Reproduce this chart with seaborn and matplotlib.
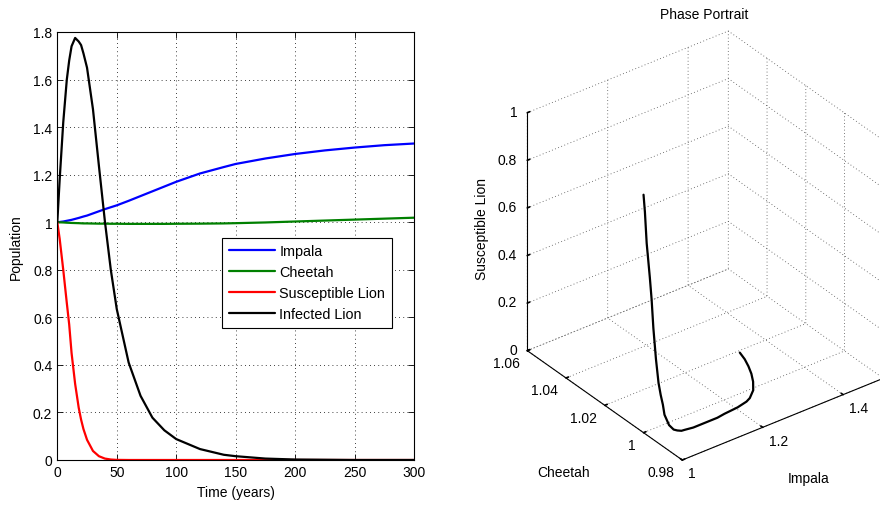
import numpy as np
import matplotlib
matplotlib.use("Agg")
import matplotlib.pyplot as plt
import seaborn as sns
import pandas as pd

# ---------------- data ----------------
time = [0, 2, 5, 8, 10, 12, 15, 18, 20, 22, 25, 30, 35, 40, 45, 50, 60, 70, 80,
        90, 100, 120, 140, 150, 175, 200, 225, 250, 275, 300]
impala = [1.0, 1.001, 1.003, 1.006, 1.008, 1.010, 1.014, 1.018, 1.021, 1.024,
          1.028, 1.037, 1.046, 1.055, 1.063, 1.071, 1.090, 1.110, 1.130, 1.150,
          1.170, 1.205, 1.232, 1.245, 1.268, 1.287, 1.302, 1.314, 1.324, 1.331]
cheetah = [1.0, 0.9995, 0.999, 0.998, 0.9975, 0.997, 0.9965, 0.996, 0.9955,
           0.995, 0.995, 0.9945, 0.994, 0.994, 0.9935, 0.9935, 0.993, 0.993,
           0.993, 0.993, 0.9935, 0.994, 0.995, 0.996, 0.999, 1.003, 1.007,
           1.011, 1.015, 1.019]
susceptible_lion = [1.0, 0.93, 0.80, 0.66, 0.57, 0.45, 0.32, 0.22, 0.17, 0.13,
                    0.085, 0.038, 0.016, 0.006, 0.002, 0.0005, 0.0, 0.0, 0.0,
                    0.0, 0.0, 0.0, 0.0, 0.0, 0.0, 0.0, 0.0, 0.0, 0.0, 0.0]
infected_lion = [1.0, 1.18, 1.42, 1.60, 1.68, 1.74, 1.775, 1.76, 1.745, 1.71,
                 1.65, 1.475, 1.237, 1.005, 0.80, 0.635, 0.41, 0.27, 0.178,
                 0.125, 0.088, 0.046, 0.022, 0.016, 0.006, 0.002, 0.001, 0.0,
                 0.0, 0.0]

series_names = ["Impala", "Cheetah", "Susceptible Lion", "Infected Lion"]
series_colors = ["#0000ff", "#008000", "#ff0000", "#000000"]

time_ticks = [0, 50, 100, 150, 200, 250, 300]
pop_ticks = [0, 0.2, 0.4, 0.6, 0.8, 1.0, 1.2, 1.4, 1.6, 1.8]
impala_ticks = [1.0, 1.2, 1.4]
cheetah_ticks = [0.98, 1.0, 1.02, 1.04, 1.06]
sus_ticks = [0, 0.2, 0.4, 0.6, 0.8, 1.0]

# ---------------- style ----------------
sns.set_theme(style="white")
plt.rcParams["font.family"] = ["Liberation Sans", "DejaVu Sans"]
plt.rcParams["font.size"] = 10
plt.rcParams["axes.edgecolor"] = "black"
plt.rcParams["axes.linewidth"] = 0.8
plt.rcParams["text.color"] = "black"
plt.rcParams["axes.labelcolor"] = "black"
plt.rcParams["xtick.color"] = "black"
plt.rcParams["ytick.color"] = "black"
plt.rcParams["grid.color"] = "0.3"
plt.rcParams["grid.linewidth"] = 0.6
plt.rcParams["grid.linestyle"] = ":"

W, H = 880, 506
fig = plt.figure(figsize=(W / 100, H / 100), dpi=100, facecolor="white")

# ---------------- left: time series ----------------
ax = fig.add_axes([57.3 / W, 45 / H, 356.7 / W, 428 / H])
df = pd.DataFrame({"Time": time, "Impala": impala, "Cheetah": cheetah,
                   "Susceptible Lion": susceptible_lion,
                   "Infected Lion": infected_lion})
long = df.melt(id_vars="Time", var_name="Series", value_name="Population")
sns.lineplot(data=long, x="Time", y="Population", hue="Series",
             hue_order=series_names, palette=dict(zip(series_names, series_colors)),
             estimator=None, sort=False, linewidth=1.6, ax=ax)

ax.set_xlim(0, 300)
ax.set_ylim(0, 1.8)
ax.set_xticks(time_ticks, labels=[f"{v:g}" for v in time_ticks])
ax.set_yticks(pop_ticks, labels=[f"{v:g}" for v in pop_ticks])
ax.tick_params(direction="in", length=4, width=0.6, labelsize=10, pad=3.6,
               top=True, right=True, bottom=True, left=True)
ax.grid(True, color="black", linewidth=0.6, linestyle=(0, (1, 4)))
for s in ax.spines.values():
    s.set_color("black")
    s.set_linewidth(0.8)
ax.set_xlabel("Time (years)", fontsize=10, labelpad=4)
ax.set_ylabel("Population", fontsize=10, labelpad=7)

handles, labels = ax.get_legend_handles_labels()
leg = ax.legend(handles, labels, loc="upper left", bbox_to_anchor=(0.462, 0.519),
                borderaxespad=0, frameon=True, fancybox=False, edgecolor="black",
                framealpha=1, fontsize=10.4, handlelength=3.2, handletextpad=0.3,
                labelspacing=0.48, borderpad=0.45)
leg.get_frame().set_linewidth(0.8)
for ln in leg.get_lines():
    ln.set_linewidth(1.6)

# ---------------- right: 3D phase portrait ----------------
side = 443.6
ax3 = fig.add_axes([477.5 / W, 31.7 / H, side / W, side / H],
                   projection="3d", proj_type="ortho")
ax3.plot(impala, cheetah, susceptible_lion, color="black", linewidth=1.6)
ax3.set_xlim(1.0, 1.5)
ax3.set_ylim(0.98, 1.06)
ax3.set_zlim(0, 1)
ax3.set_box_aspect((252.4, 256.4, 281.8))
ax3.view_init(elev=32.38, azim=-127.2)
ax3.set_xticks(impala_ticks, labels=[f"{v:g}" for v in impala_ticks],
               ha="left", va="center")
ax3.set_yticks(cheetah_ticks, labels=[f"{v:g}" for v in cheetah_ticks],
               ha="right", va="center")
ax3.set_zticks(sus_ticks, labels=[f"{v:g}" for v in sus_ticks],
               ha="right", va="center")
ax3.set_facecolor("white")
ax3.grid(True)
for a in (ax3.xaxis, ax3.yaxis, ax3.zaxis):
    a.pane.fill = False
    a.pane.set_edgecolor((1, 1, 1, 0))
    a._axinfo["grid"].update(color="0.3", linewidth=0.6, linestyle=(0, (1, 3)))
    a._axinfo["tick"]["inward_factor"] = 0.0
    a._axinfo["tick"]["outward_factor"] = 0.15
    a.line.set_color("black")
    a.line.set_linewidth(0.8)
    a.set_rotate_label(False)
ax3.tick_params(labelsize=10, colors="black")
ax3.xaxis.set_tick_params(pad=-1.6)
ax3.yaxis.set_tick_params(pad=-1.6)
ax3.zaxis.set_tick_params(pad=-3.3)
ax3.set_xlabel("Impala", fontsize=10, labelpad=7)
ax3.set_ylabel("Cheetah", fontsize=10, labelpad=13.5)
ax3.set_zlabel("Susceptible Lion", fontsize=10, labelpad=0, rotation=90)
ax3.text2D(704.5 / W, 1 - 15 / H, "Phase Portrait", transform=fig.transFigure,
           ha="center", va="center", fontsize=10)

fig.savefig("out.png", dpi=100, facecolor="white")
